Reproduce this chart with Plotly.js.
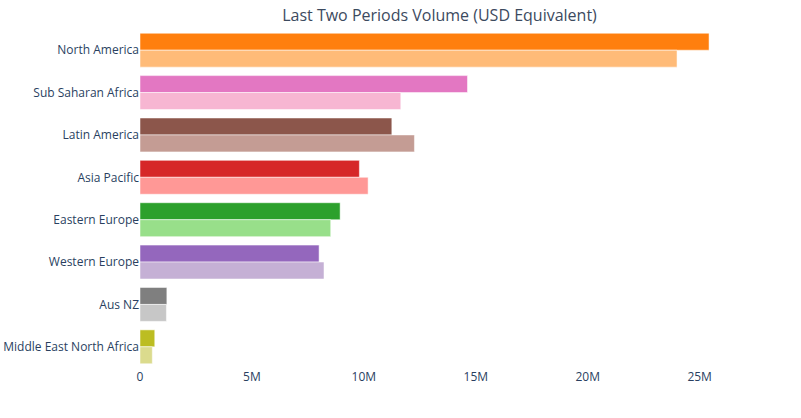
<!DOCTYPE html>
<html>
<head>
<meta charset="utf-8">
<script src="https://cdn.plot.ly/plotly-3.0.1.min.js"></script>
<style>html,body{margin:0;padding:0;background:#fff;}#chart{width:801px;height:418px;}</style>
</head>
<body>
<div id="chart"></div>
<script>
const regions = ["North America", "Sub Saharan Africa", "Latin America", "Asia Pacific", "Eastern Europe", "Western Europe", "Aus NZ", "Middle East North Africa"];
const currentPeriod = [25.42e6, 14.63e6, 11.25e6, 9.80e6, 8.94e6, 8.00e6, 1.20e6, 0.66e6];
const previousPeriod = [23.99e6, 11.65e6, 12.26e6, 10.19e6, 8.52e6, 8.22e6, 1.18e6, 0.55e6];
const currentColors = ["#ff7f0e", "#e377c2", "#8c564b", "#d62728", "#2ca02c", "#9467bd", "#7f7f7f", "#bcbd22"];
const previousColors = ["#ffbb78", "#f7b6d2", "#c49c94", "#ff9896", "#98df8a", "#c5b0d5", "#c7c7c7", "#dbdb8d"];
const xTickVals = [0, 5e6, 10e6, 15e6, 20e6, 25e6];
const xTickText = ["0", "5M", "10M", "15M", "20M", "25M"];

const data = [
  {type: "bar", orientation: "h", name: "Current", y: regions, x: currentPeriod,
   marker: {color: currentColors, line: {color: "rgba(255,255,255,0.5)", width: 1}}},
  {type: "bar", orientation: "h", name: "Previous", y: regions, x: previousPeriod,
   marker: {color: previousColors, line: {color: "rgba(255,255,255,0.5)", width: 1}}}
];
const layout = {
  width: 801, height: 418,
  margin: {l: 140, r: 62, t: 29, b: 50},
  paper_bgcolor: "#fff", plot_bgcolor: "#fff",
  font: {family: "Open Sans, sans-serif", size: 12, color: "#2a3f5f"},
  title: {text: "Last Two Periods Volume (USD Equivalent)", font: {size: 16, color: "#3c4a5e"},
          x: 0.5, xref: "paper", y: 0.962, yref: "container", yanchor: "middle"},
  barmode: "group", bargap: 0.2, bargroupgap: 0,
  showlegend: false,
  xaxis: {showgrid: false, zeroline: false, showline: false, tickvals: xTickVals, ticktext: xTickText, automargin: false},
  yaxis: {autorange: "reversed", showgrid: false, zeroline: false, showline: false, automargin: false}
};
Plotly.newPlot("chart", data, layout, {displayModeBar: false});
</script>
</body>
</html>
